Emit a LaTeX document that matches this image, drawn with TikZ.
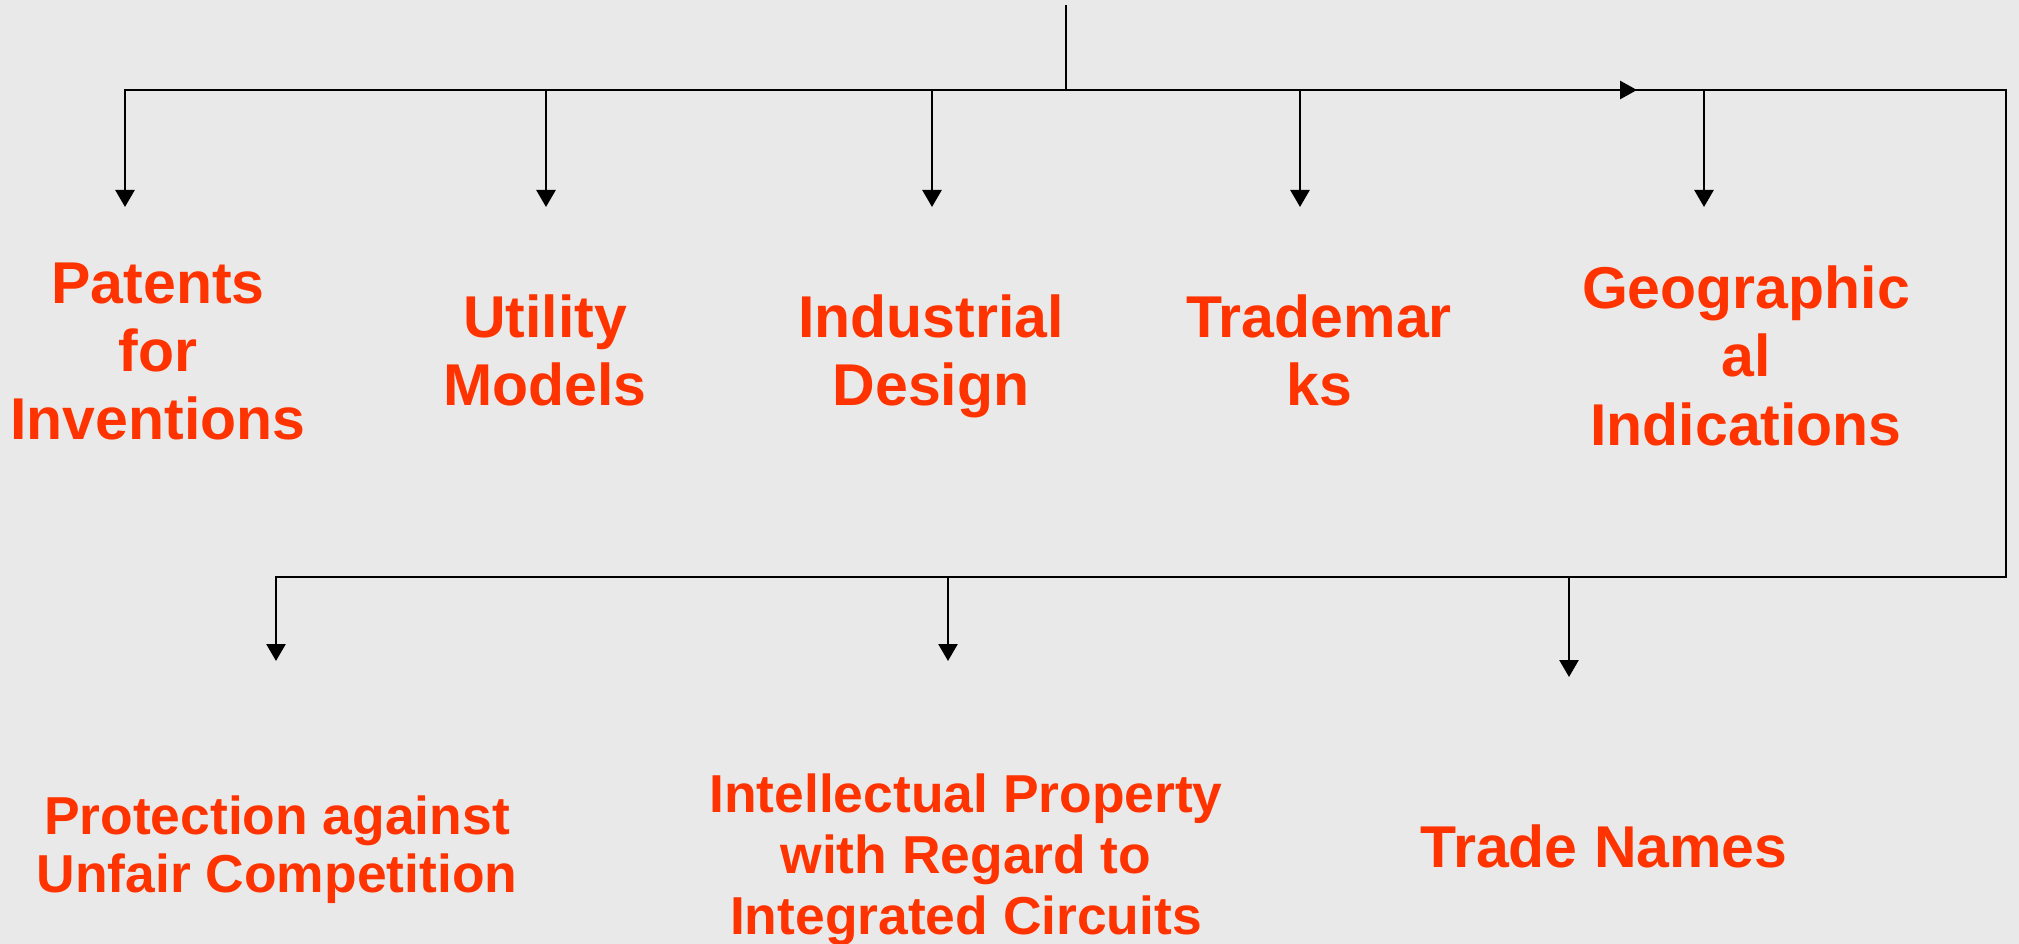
\documentclass[tikz,border=0pt]{standalone}
\usepackage{fontspec}
\setmainfont{Liberation Sans}
\usetikzlibrary{arrows.meta}
\definecolor{bgc}{HTML}{E9E9E9}
\definecolor{ipred}{HTML}{FF3300}
\tikzset{
  conn/.style={draw=black, line width=2.8pt},
  branch/.style={draw=black, line width=2.6pt, -{Triangle[width=19pt,length=17pt]}},
  lbl/.style={anchor=base, inner sep=0pt, text=ipred},
  big/.style={font=\bfseries\fontsize{59}{68}\selectfont},
}
\newcommand{\lines}[1]{\begin{tabular}[t]{@{}c@{}}#1\end{tabular}}
\begin{document}
\begin{tikzpicture}[x=1pt,y=-1pt]
\fill[bgc] (0,0) rectangle (2019,944);
\useasboundingbox (0,0) rectangle (2019,944);
% junction coordinates
\coordinate (top) at (1066,5);
\coordinate (j) at (1066,90);
\coordinate (hl) at (125,90);
\coordinate (mid) at (1637,90);
\coordinate (hr) at (2006,90);
\coordinate (br) at (2006,577);
\coordinate (bl) at (276,577);
\coordinate (t1) at (125,90);
\coordinate (t2) at (546,90);
\coordinate (t3) at (932,90);
\coordinate (t4) at (1300,90);
\coordinate (t5) at (1704,90);
\coordinate (b1) at (276,577);
\coordinate (b2) at (948,577);
\coordinate (b3) at (1569,577);
\coordinate (e1) at (125,207);
\coordinate (e2) at (546,207);
\coordinate (e3) at (932,207);
\coordinate (e4) at (1300,207);
\coordinate (e5) at (1704,207);
\coordinate (f1) at (276,661);
\coordinate (f2) at (948,661);
\coordinate (f3) at (1569,677);
% labels
\node[lbl,big] (pat) at (158,303) {\lines{Patents\\for\\Inventions}};
\node[lbl,big] (util) at (545,337) {\lines{Utility\\Models}};
\node[lbl,big] (ind) at (931,337) {\lines{Industrial\\Design}};
\node[lbl,big] (tm) at (1319,337) {\lines{Trademar\\ks}};
\node[lbl,font=\bfseries\fontsize{59}{69}\selectfont] (geo) at (1746,308) {\lines{Geographic\\al\\Indications}};
\node[lbl,font=\bfseries\fontsize{53.4}{58}\selectfont] (prot) at (277,834) {\lines{Protection against\\Unfair Competition}};
\node[lbl,font=\bfseries\fontsize{53.4}{61}\selectfont] (ipic) at (966,812) {\lines{Intellectual Property\\with Regard to\\Integrated Circuits}};
\node[lbl,big] (tn) at (1604,867) {Trade Names};
% connectors
\draw[conn] (top) -- (j);
\draw[conn, line cap=rect] (hl) -- (hr) -- (br) -- (bl);
\draw[conn, -{Triangle[width=18pt,length=17pt]}] (j) -- (mid);
\draw[branch] (t1) -- (e1);
\draw[branch] (t2) -- (e2);
\draw[branch] (t3) -- (e3);
\draw[branch] (t4) -- (e4);
\draw[branch] (t5) -- (e5);
\draw[branch] (b1) -- (f1);
\draw[branch] (b2) -- (f2);
\draw[branch] (b3) -- (f3);
\end{tikzpicture}
\end{document}
